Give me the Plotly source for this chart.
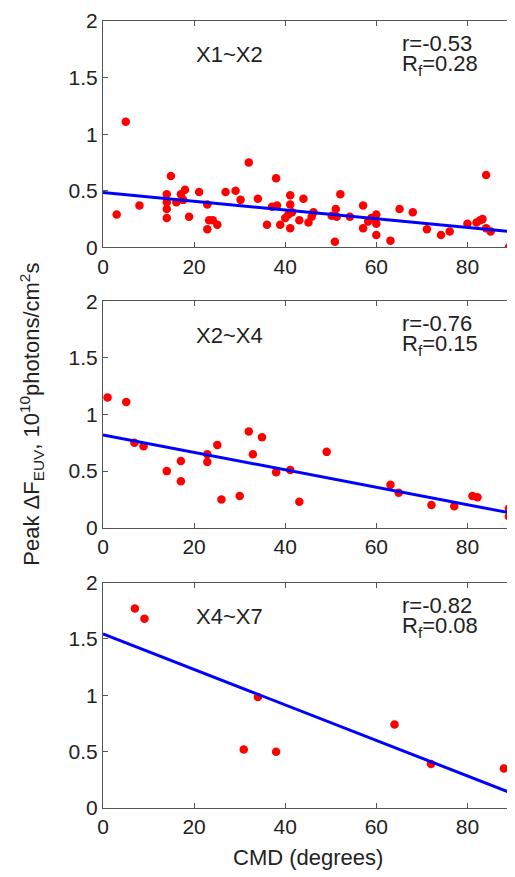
import plotly.graph_objects as go

# ---- data ----
x1 = [3, 5, 8, 14, 14, 14, 14, 14.9, 16.1, 17.1, 18, 17.6, 18.9, 21.1, 22.9, 22.9, 23.3, 24.1,
      25.1, 26.9, 29.1, 30.2, 32, 34, 36, 37.1, 38, 38.2, 38.9, 40, 40.7, 41.1, 41.1, 41.1,
      41.5, 43.1, 44, 45.1, 45.8, 46.2, 50.2, 50.9, 51.1, 51.3, 52.1, 54.2, 57.1, 57.1, 58.2,
      58.9, 60, 60, 60, 63.1, 65.1, 68, 71.1, 74.2, 76.1, 80, 82, 82.8, 83.3, 84.1, 84.1,
      85.1, 89.1, 90]
y1 = [0.29, 1.11, 0.37, 0.47, 0.40, 0.34, 0.26, 0.63, 0.40, 0.47, 0.51, 0.42, 0.27, 0.49,
      0.38, 0.16, 0.24, 0.24, 0.20, 0.49, 0.50, 0.42, 0.75, 0.43, 0.20, 0.36, 0.61, 0.37,
      0.20, 0.26, 0.29, 0.46, 0.38, 0.17, 0.31, 0.24, 0.43, 0.22, 0.27, 0.31, 0.28, 0.05,
      0.34, 0.27, 0.47, 0.27, 0.37, 0.17, 0.23, 0.26, 0.29, 0.21, 0.11, 0.06, 0.34, 0.31,
      0.16, 0.11, 0.14, 0.21, 0.22, 0.24, 0.25, 0.64, 0.17, 0.14, 0.0, 0.13]

x2 = [1, 5.1, 6.9, 8.9, 14, 17.1, 17.1, 22.9, 22.9, 25.1, 26, 30, 32, 32.9, 34.9, 38, 41.1,
      43.1, 49.1, 63.1, 64.9, 72.1, 77.1, 81.1, 82.2, 89.1, 89.1]
y2 = [1.15, 1.11, 0.75, 0.72, 0.50, 0.59, 0.41, 0.65, 0.58, 0.73, 0.25, 0.28, 0.85, 0.65,
      0.80, 0.49, 0.51, 0.23, 0.67, 0.38, 0.31, 0.20, 0.19, 0.28, 0.27, 0.17, 0.10]

x3 = [7, 9.1, 30.9, 34, 38, 64, 72, 88]
y3 = [1.77, 1.68, 0.52, 0.985, 0.50, 0.74, 0.39, 0.35]

fit_x = [0, 90]
fit1_y = [0.485, 0.138]
fit2_y = [0.82, 0.126]
fit3_y = [1.545, 0.127]

labels = ["X1~X2", "X2~X4", "X4~X7"]
r_texts = ["r=-0.53", "r=-0.76", "r=-0.82"]
rf_texts = ["R<sub>f</sub>=0.28", "R<sub>f</sub>=0.15", "R<sub>f</sub>=0.08"]

x_ticks = [0, 20, 40, 60, 80]
y_ticks = [0, 0.5, 1, 1.5, 2]
y_ticktext = ["0", "0.5", "1", "1.5", "2"]

FONT = "Liberation Sans, Arial, sans-serif"
TXT = "#222222"
AX = "#555555"

domains = [[0.7123, 1.0], [0.3561, 0.6439], [0.0, 0.2864]]
xs = [x1, x2, x3]
ys = [y1, y2, y3]
fits = [fit1_y, fit2_y, fit3_y]

fig = go.Figure()
# the page body adds an 8px offset; size and margins compensate for it
layout = dict(
    width=507, height=869,
    margin=dict(l=95, r=1, t=11, b=69),
    paper_bgcolor="white", plot_bgcolor="white",
    showlegend=False,
    font=dict(family=FONT, size=21, color=TXT),
)

annotations = []
for i in range(3):
    n = "" if i == 0 else str(i + 1)
    xa = "x" + n
    ya = "y" + n
    fig.add_trace(go.Scatter(x=xs[i], y=ys[i], mode="markers", xaxis=xa, yaxis=ya,
                             marker=dict(color="#ff0000", size=8.5, line=dict(width=0)),
                             cliponaxis=True))
    fig.add_trace(go.Scatter(x=fit_x, y=fits[i], mode="lines", xaxis=xa, yaxis=ya,
                             line=dict(color="#0000ff", width=3)))
    layout["xaxis" + n] = dict(
        domain=[0, 1], anchor=ya, range=[0, 90], tickvals=x_ticks,
        ticks="inside", ticklen=5, tickcolor=AX, showline=True, linecolor=AX, linewidth=1,
        mirror="ticks", showgrid=False, zeroline=False,
        tickfont=dict(family=FONT, size=21, color=TXT),
    )
    layout["yaxis" + n] = dict(
        domain=domains[i], anchor=xa, range=[0, 2], tickvals=y_ticks, ticktext=y_ticktext,
        ticks="inside", ticklen=5, tickcolor=AX, showline=True, linecolor=AX, linewidth=1,
        mirror="ticks", showgrid=False, zeroline=False,
        tickfont=dict(family=FONT, size=21, color=TXT),
    )
    annotations.append(dict(x=20, y=1.70, xref=xa, yref=ya, text=labels[i], showarrow=False,
                            xanchor="left", yanchor="middle",
                            font=dict(family=FONT, size=22, color=TXT)))
    annotations.append(dict(x=65.2, y=1.80, xref=xa, yref=ya, text=r_texts[i], showarrow=False,
                            xanchor="left", yanchor="middle",
                            font=dict(family=FONT, size=22, color=TXT)))
    annotations.append(dict(x=65.2, y=1.61, xref=xa, yref=ya, text=rf_texts[i], showarrow=False,
                            xanchor="left", yanchor="middle",
                            font=dict(family=FONT, size=22, color=TXT)))

annotations.append(dict(x=-0.175, y=0.5, xref="paper", yref="paper", textangle=-90,
                        text="Peak ΔF<sub>EUV</sub>, 10<sup>10</sup>photons/cm<sup>2</sup>s",
                        showarrow=False, xanchor="center", yanchor="middle",
                        font=dict(family=FONT, size=22, color=TXT)))
annotations.append(dict(x=0.5, y=-0.0634, xref="paper", yref="paper",
                        text="CMD (degrees)", showarrow=False,
                        xanchor="center", yanchor="middle",
                        font=dict(family=FONT, size=22, color=TXT)))
layout["annotations"] = annotations
fig.update_layout(**layout)
fig.write_html("out.html")
